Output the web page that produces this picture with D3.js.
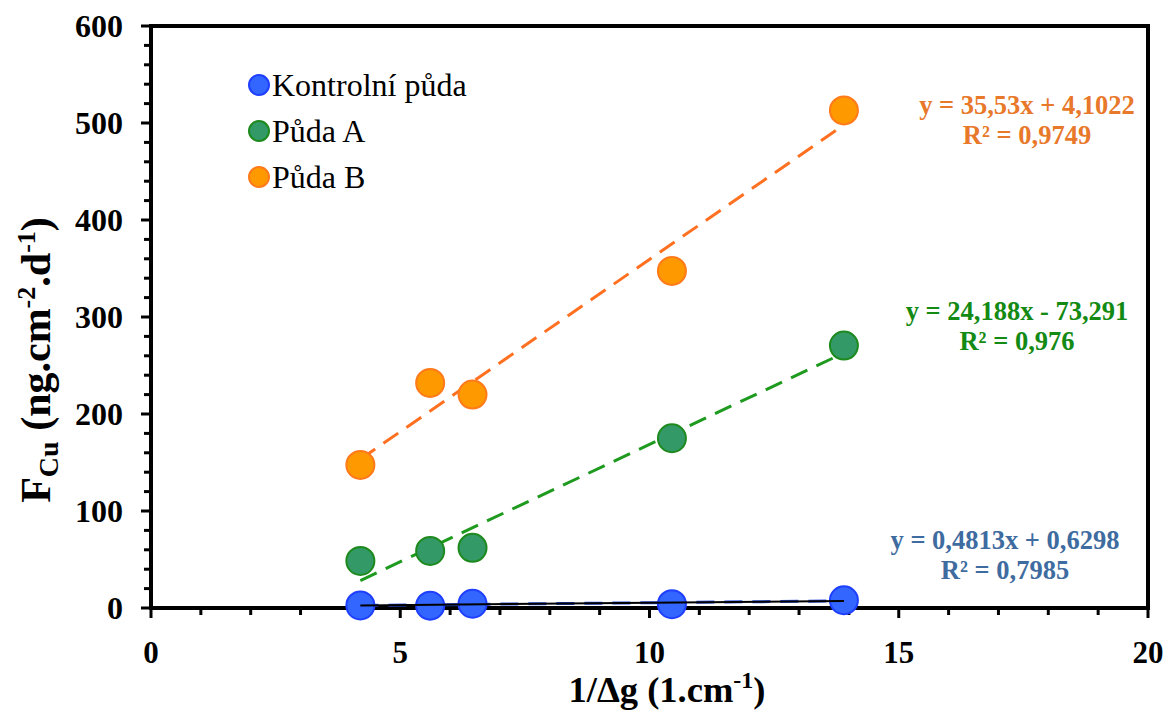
<!DOCTYPE html>
<html><head><meta charset="utf-8">
<script src="https://cdn.jsdelivr.net/npm/d3@7"></script>
<style>body{margin:0;background:#fff}svg{display:block}</style>
</head><body>
<svg id="c" width="1168" height="711"></svg>
<script>
// Data
const xValues = [4.2, 5.6, 6.45, 10.45, 13.9];
const kontrolni = [2.6, 2.4, 4.4, 3.9, 8.0];
const pudaA = [48.5, 58.8, 62.0, 175.0, 270.5];
const pudaB = [147.5, 232.0, 220.0, 347.5, 513.0];
const seriesNames = ["Kontrolní půda", "Půda A", "Půda B"];
const trendSlopes = [0.4813, 24.188, 35.53];
const trendIntercepts = [0.6298, -73.291, 4.1022];
const trendLabels = [["y = 0,4813x + 0,6298", "R² = 0,7985"],
                     ["y = 24,188x - 73,291", "R² = 0,976"],
                     ["y = 35,53x + 4,1022", "R² = 0,9749"]];
const xTicks = [0, 5, 10, 15, 20];
const yTicks = [0, 100, 200, 300, 400, 500, 600];

const fills = ["#3366FF", "#339966", "#FF9900"];
const strokes = ["#1F3FFF", "#1E8A1E", "#FF7A1A"];
const lineCols = ["#2B4FE0", "#1E9A1E", "#FF7020"];
const labelCols = ["#3F6CA0", "#138A13", "#E8782A"];

const svg = d3.select("#c");
const L = 151, R = 1148, T = 26, B = 608;
const x = d3.scaleLinear().domain([0, 20]).range([L, R]);
const y = d3.scaleLinear().domain([0, 600]).range([B, T]);
const font = "'Liberation Serif','Times New Roman',serif";

// frame
svg.append("rect").attr("x", L).attr("y", T).attr("width", R - L).attr("height", B - T)
  .attr("fill", "none").attr("stroke", "#000").attr("stroke-width", 4);

// ticks
const xMinor = d3.range(0, 21, 1);
const yMinor = d3.range(0, 601, 20);
svg.append("g").selectAll("line").data(xMinor).join("line")
  .attr("x1", d => x(d)).attr("x2", d => x(d)).attr("y1", B)
  .attr("y2", d => B + (d % 5 === 0 ? 10 : 7))
  .attr("stroke", "#000").attr("stroke-width", 3);
svg.append("g").selectAll("line").data(yMinor).join("line")
  .attr("y1", d => y(d)).attr("y2", d => y(d)).attr("x1", L)
  .attr("x2", d => L - (d % 100 === 0 ? 10 : 7))
  .attr("stroke", "#000").attr("stroke-width", 3);

// tick labels
svg.append("g").selectAll("text").data(yTicks).join("text")
  .attr("x", 123).attr("y", d => y(d) + 11).attr("text-anchor", "end")
  .attr("font-family", font).attr("font-weight", "bold").attr("font-size", 32)
  .text(d => d);
svg.append("g").selectAll("text").data(xTicks).join("text")
  .attr("x", d => x(d)).attr("y", 662.5).attr("text-anchor", "middle")
  .attr("font-family", font).attr("font-weight", "bold").attr("font-size", 31)
  .text(d => d);

// axis titles
const xt = svg.append("text").attr("x", 667).attr("y", 702).attr("text-anchor", "middle")
  .attr("font-family", font).attr("font-weight", "bold").attr("font-size", 36.5);
xt.append("tspan").text("1/Δg (1.cm");
xt.append("tspan").attr("dy", -14).attr("font-size", 24).text("-1");
xt.append("tspan").attr("dy", 14).text(")");

const yt = svg.append("text").attr("transform", "translate(50,360) rotate(-90)")
  .attr("text-anchor", "middle")
  .attr("font-family", font).attr("font-weight", "bold").attr("font-size", 42);
yt.append("tspan").text("F");
yt.append("tspan").attr("dy", 8).attr("font-size", 28).text("Cu");
yt.append("tspan").attr("dy", -8).text(" (ng.cm");
yt.append("tspan").attr("dy", -15).attr("font-size", 26).text("-2");
yt.append("tspan").attr("dy", 15).text(".d");
yt.append("tspan").attr("dy", -15).attr("font-size", 26).text("-1");
yt.append("tspan").attr("dy", 15).text(")");

const allSeries = [kontrolni, pudaA, pudaB];
const x0 = d3.min(xValues), x1 = d3.max(xValues);

// trendlines
allSeries.forEach((s, i) => {
  const pts = [x0, x1].map(v => [x(v), y(trendSlopes[i] * v + trendIntercepts[i])]);
  svg.append("path").attr("d", d3.line()(pts)).attr("fill", "none")
    .attr("stroke", lineCols[i]).attr("stroke-width", 3).attr("stroke-dasharray", "18,10");
});

// points: draw B, A, then control on top
[2, 1, 0].forEach(i => {
  svg.append("g").selectAll("circle").data(xValues.map((v, j) => [v, allSeries[i][j]])).join("circle")
    .attr("cx", d => x(d[0])).attr("cy", d => y(d[1])).attr("r", 14)
    .attr("fill", fills[i]).attr("stroke", strokes[i]).attr("stroke-width", 2);
});
// black solid line over control points
{
  const pts = [x0, x1].map(v => [x(v), y(trendSlopes[0] * v + trendIntercepts[0])]);
  svg.append("path").attr("d", d3.line()(pts)).attr("fill", "none")
    .attr("stroke", "#000").attr("stroke-width", 2);
}

// legend
const leg = svg.append("g");
seriesNames.forEach((n, i) => {
  const cy = 85 + i * 46;
  leg.append("circle").attr("cx", 259).attr("cy", cy).attr("r", 10)
    .attr("fill", fills[i]).attr("stroke", strokes[i]).attr("stroke-width", 2);
  leg.append("text").attr("x", 272).attr("y", cy + 11)
    .attr("font-family", font).attr("font-size", 32).text(n);
});

// equation labels
const labPos = [[1005, 549], [1017, 320], [1027, 114]];
trendLabels.forEach((ls, i) => {
  ls.forEach((t, k) => {
    svg.append("text").attr("x", labPos[i][0]).attr("y", labPos[i][1] + k * 30)
      .attr("text-anchor", "middle").attr("font-family", font).attr("font-weight", "bold")
      .attr("font-size", 26.5).attr("fill", labelCols[i]).text(t);
  });
});
</script>
</body></html>
